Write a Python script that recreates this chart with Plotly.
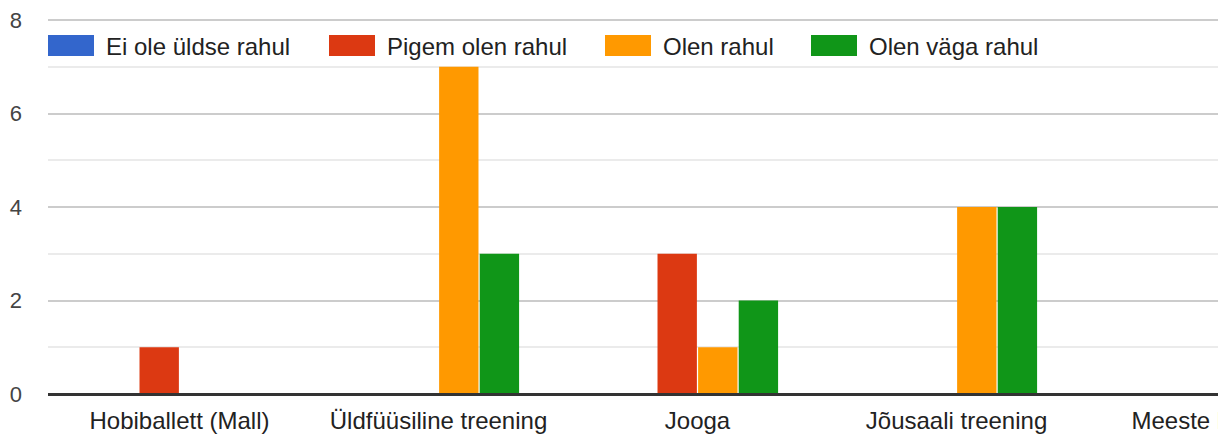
import plotly.graph_objects as go

# data
categories = ["Hobiballett (Mall)", "Üldfüüsiline treening", "Jooga",
              "Jõusaali treening", "Meeste korvpall"]
series_names = ["Ei ole üldse rahul", "Pigem olen rahul", "Olen rahul", "Olen väga rahul"]
ei_ole_uldse_rahul = [0, 0, 0, 0, 0]
pigem_olen_rahul = [1, 0, 3, 0, 0]
olen_rahul = [0, 7, 1, 4, 0]
olen_vaga_rahul = [0, 3, 2, 4, 0]
y_ticks = [0, 2, 4, 6, 8]

COLORS = ["#3366cc", "#dc3912", "#ff9900", "#109618"]
FONT = "Arial, 'Liberation Sans', sans-serif"

# the page body has an 8px margin, so the figure sits 8px in from the window corner
BODY = 8
PX_PER_UNIT = 46.75
PAD_TOP = 4                      # plot area reaches a little above 8 so its gridline is drawn
W, H = 1226 - BODY, 434 - BODY
M_L, M_T, M_B = 48 - BODY, 20 - PAD_TOP - BODY, 40
PLOT_W = W - M_L
PLOT_H = H - M_T - M_B
STEP = 259          # pixels per category
FIRST_CENTER = 179.5 - BODY
Y_TOP = 8 + PAD_TOP / PX_PER_UNIT

fig = go.Figure()
for name, vals, col in zip(series_names,
                           [ei_ole_uldse_rahul, pigem_olen_rahul, olen_rahul, olen_vaga_rahul],
                           COLORS):
    fig.add_trace(go.Bar(
        x=categories,
        y=vals,
        name=name,
        marker=dict(color=col, line=dict(width=0)),
        showlegend=False,
    ))


# window pixel -> paper coordinate
def px_x(p):
    return (p - BODY - M_L) / PLOT_W


def px_y(p):
    return (H - M_B - (p - BODY)) / PLOT_H


# legend drawn by hand to get the wide Google-style swatches
legend_x = [48, 329, 605, 811]
for name, col, lx in zip(series_names, COLORS, legend_x):
    fig.add_shape(type="rect", xref="paper", yref="paper",
                  x0=px_x(lx), x1=px_x(lx + 46), y0=px_y(56), y1=px_y(35),
                  fillcolor=col, line=dict(width=0), layer="above")
    fig.add_annotation(x=px_x(lx + 56), y=px_y(46), xref="paper", yref="paper",
                       text=name, showarrow=False, xanchor="left", yanchor="middle",
                       font=dict(family=FONT, size=24, color="#222222"))

x0 = -(FIRST_CENTER - M_L) / STEP

fig.update_layout(
    width=W,
    height=H,
    margin=dict(l=M_L, r=0, t=M_T, b=M_B, autoexpand=False),
    paper_bgcolor="white",
    plot_bgcolor="white",
    barmode="group",
    bargap=0.373,
    bargroupgap=0.03,
    font=dict(family=FONT, size=24, color="#222222"),
    xaxis=dict(
        range=[x0, x0 + PLOT_W / STEP],
        automargin=False,
        showgrid=False,
        showline=False,
        ticks="",
        ticklabelstandoff=10,
        ticklabeloverflow="allow",
        tickfont=dict(size=24, color="#222222"),
    ),
    yaxis=dict(
        range=[0, Y_TOP],
        tickvals=y_ticks,
        automargin=False,
        showgrid=True,
        gridcolor="#cccccc",
        gridwidth=2,
        minor=dict(dtick=1, showgrid=True, gridcolor="#ebebeb", gridwidth=2),
        zeroline=True,
        zerolinecolor="#333333",
        zerolinewidth=3,
        zerolinelayer="above traces",
        ticks="",
        ticklabelstandoff=25,
        ticklabeloverflow="allow",
        tickfont=dict(size=22, color="#444444"),
    ),
)

fig.write_html("out.html")
